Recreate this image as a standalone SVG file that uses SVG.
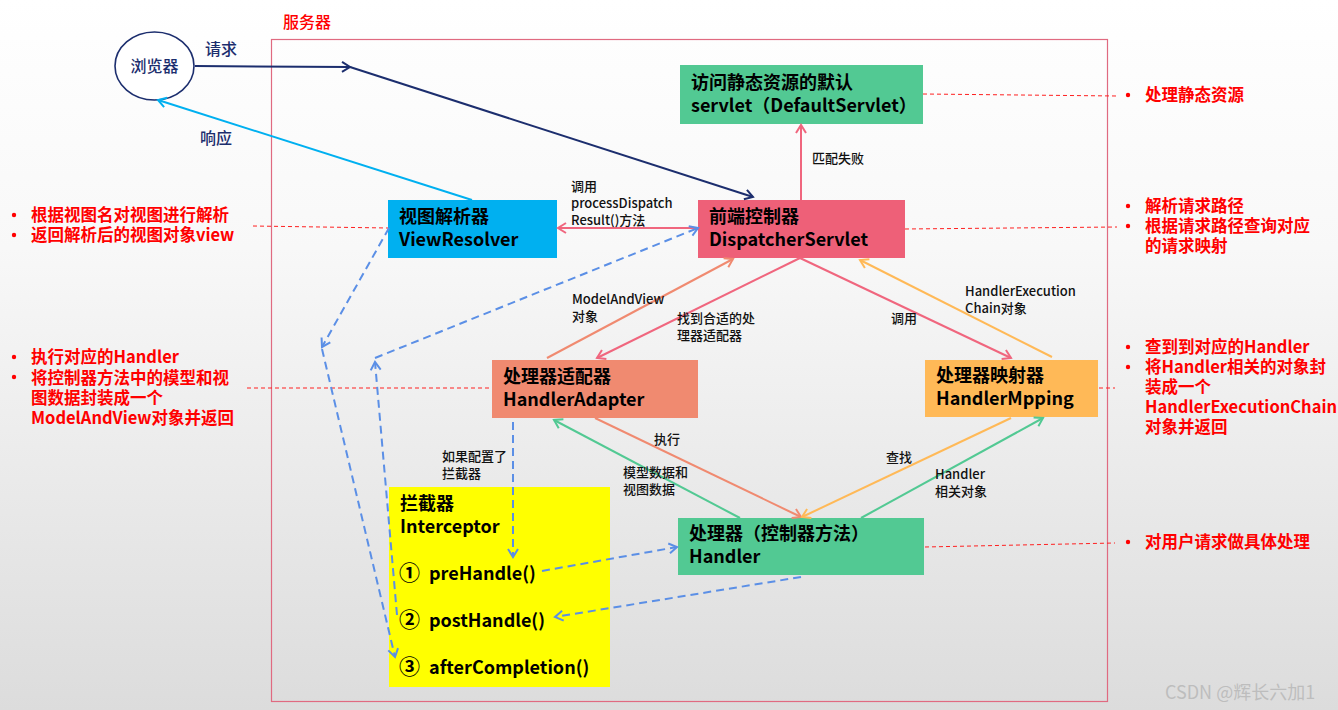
<svg xmlns="http://www.w3.org/2000/svg" width="1338" height="710" viewBox="0 0 1338 710">
<defs>
<linearGradient id="bg" x1="0" y1="0" x2="0" y2="1">
<stop offset="0" stop-color="#ffffff"/>
<stop offset="0.35" stop-color="#f8f8f8"/>
<stop offset="1" stop-color="#dcdcdc"/>
</linearGradient>
<marker id="mNavy" markerUnits="userSpaceOnUse" markerWidth="14" markerHeight="14" refX="11" refY="7" orient="auto"><path d="M3,2 L11,7 L3,12" fill="none" stroke="#1c2e6e" stroke-width="2"/></marker>
<marker id="mCyan" markerUnits="userSpaceOnUse" markerWidth="14" markerHeight="14" refX="11" refY="7" orient="auto"><path d="M3,2 L11,7 L3,12" fill="none" stroke="#00b0f0" stroke-width="2"/></marker>
<marker id="mPink" markerUnits="userSpaceOnUse" markerWidth="14" markerHeight="14" refX="11" refY="7" orient="auto"><path d="M3,2 L11,7 L3,12" fill="none" stroke="#f0667e" stroke-width="2"/></marker>
<marker id="mSalmon" markerUnits="userSpaceOnUse" markerWidth="14" markerHeight="14" refX="11" refY="7" orient="auto"><path d="M3,2 L11,7 L3,12" fill="none" stroke="#f08a70" stroke-width="2"/></marker>
<marker id="mOrange" markerUnits="userSpaceOnUse" markerWidth="14" markerHeight="14" refX="11" refY="7" orient="auto"><path d="M3,2 L11,7 L3,12" fill="none" stroke="#ffb957" stroke-width="2"/></marker>
<marker id="mGreen" markerUnits="userSpaceOnUse" markerWidth="14" markerHeight="14" refX="11" refY="7" orient="auto"><path d="M3,2 L11,7 L3,12" fill="none" stroke="#52c993" stroke-width="2"/></marker>
<marker id="mBlue" markerUnits="userSpaceOnUse" markerWidth="14" markerHeight="14" refX="11" refY="7" orient="auto"><path d="M3,2 L11,7 L3,12" fill="none" stroke="#5b8fe6" stroke-width="2"/></marker>
</defs>
<style>
text { font-family: "Noto Sans CJK SC", "Noto Sans", sans-serif; }
.bt { font-size: 18px; font-weight: bold; fill: #000; }
.num { font-size: 21px; font-weight: bold; fill: #000; }
.lbl { font-size: 13px; fill: #111; font-weight: 500; }
.nt { font-size: 16.5px; font-weight: bold; fill: #ff0000; }
.navy { font-size: 16px; fill: #1c2e6e; font-weight: 500; }
.ln { fill: none; stroke-width: 2; }
.dash { fill: none; stroke: #5b8fe6; stroke-width: 2; stroke-dasharray: 8 5; }
.rd { fill: none; stroke: #ff2020; stroke-width: 1; stroke-dasharray: 4 3; }
.bul { fill: #ff0000; }
</style>
<rect x="0" y="0" width="1338" height="710" fill="url(#bg)"/>

<g id="server">
<rect x="271.5" y="39.5" width="836" height="662" fill="none" stroke="#e06a80" stroke-width="1.2"/>
<text x="283" y="28" style="font-size:16px;fill:#ff0000;font-weight:500">服务器</text>
</g>

<g id="annotations">
<path class="rd" d="M253,226 L388,228"/>
<path class="rd" d="M247,388 L492,388"/>
<path class="rd" d="M923,94 L1117,96"/>
<path class="rd" d="M905,229 L1117,227"/>
<path class="rd" d="M1099,388 L1115,388"/>
<path class="rd" d="M925,547 L1115,543"/>
<circle class="bul" cx="14" cy="215" r="2.2"/>
<circle class="bul" cx="14" cy="235" r="2.2"/>
<text class="nt" x="31" y="221"><tspan x="31" y="221">根据视图名对视图进行解析</tspan><tspan x="31" y="241">返回解析后的视图对象view</tspan></text>
<circle class="bul" cx="14" cy="357" r="2.2"/>
<circle class="bul" cx="14" cy="377" r="2.2"/>
<text class="nt" x="31" y="363"><tspan x="31" y="363">执行对应的Handler</tspan><tspan x="31" y="384">将控制器方法中的模型和视</tspan><tspan x="31" y="404">图数据封装成一个</tspan><tspan x="31" y="424">ModelAndView对象并返回</tspan></text>
<circle class="bul" cx="1128" cy="95" r="2.2"/>
<text class="nt" x="1145" y="101">处理静态资源</text>
<circle class="bul" cx="1128" cy="206" r="2.2"/>
<circle class="bul" cx="1128" cy="226" r="2.2"/>
<text class="nt" x="1145" y="212"><tspan x="1145" y="212">解析请求路径</tspan><tspan x="1145" y="232">根据请求路径查询对应</tspan><tspan x="1145" y="252">的请求映射</tspan></text>
<circle class="bul" cx="1128" cy="347" r="2.2"/>
<circle class="bul" cx="1128" cy="367" r="2.2"/>
<text class="nt" x="1145" y="353"><tspan x="1145" y="353">查到到对应的Handler</tspan><tspan x="1145" y="373">将Handler相关的对象封</tspan><tspan x="1145" y="393">装成一个</tspan><tspan x="1145" y="413">HandlerExecutionChain</tspan><tspan x="1145" y="433">对象并返回</tspan></text>
<circle class="bul" cx="1128" cy="542" r="2.2"/>
<text class="nt" x="1145" y="548">对用户请求做具体处理</text>
</g>

<g id="browser">
<ellipse cx="154.5" cy="66" rx="39.5" ry="34" fill="#ffffff" stroke="#1c2e6e" stroke-width="1.6"/>
<text class="navy" x="154.5" y="72" text-anchor="middle">浏览器</text>
</g>

<g id="default-servlet">
<rect x="680" y="65" width="243" height="59" fill="#52c993"/>
<text class="bt" x="691" y="89"><tspan x="691" y="89">访问静态资源的默认</tspan><tspan x="691" y="112">servlet（DefaultServlet）</tspan></text>
</g>

<g id="dispatcher">
<rect x="698" y="200" width="207" height="58" fill="#ee6078"/>
<text class="bt" x="709" y="223"><tspan x="709" y="223">前端控制器</tspan><tspan x="709" y="246">DispatcherServlet</tspan></text>
</g>

<g id="view-resolver">
<rect x="388" y="200" width="169" height="58" fill="#00b0f0"/>
<text class="bt" x="399" y="223"><tspan x="399" y="223">视图解析器</tspan><tspan x="399" y="246">ViewResolver</tspan></text>
</g>

<g id="handler-adapter">
<rect x="492" y="360" width="206" height="58" fill="#f08a70"/>
<text class="bt" x="503" y="383"><tspan x="503" y="383">处理器适配器</tspan><tspan x="503" y="406">HandlerAdapter</tspan></text>
</g>

<g id="handler-mapping">
<rect x="925" y="360" width="173" height="57" fill="#ffb957"/>
<text class="bt" x="936" y="382"><tspan x="936" y="382">处理器映射器</tspan><tspan x="936" y="405">HandlerMpping</tspan></text>
</g>

<g id="handler">
<rect x="678" y="518" width="246" height="57" fill="#52c993"/>
<text class="bt" x="689" y="540"><tspan x="689" y="540">处理器（控制器方法）</tspan><tspan x="689" y="563">Handler</tspan></text>
</g>

<g id="interceptor">
<rect x="389" y="487" width="221" height="200" fill="#ffff00"/>
<text class="bt" x="400" y="510"><tspan x="400" y="510">拦截器</tspan><tspan x="400" y="533">Interceptor</tspan></text>
<text class="bt" x="399" y="580"><tspan class="num">①</tspan><tspan x="429">preHandle()</tspan></text>
<text class="bt" x="399" y="627"><tspan class="num">②</tspan><tspan x="429">postHandle()</tspan></text>
<text class="bt" x="399" y="674"><tspan class="num">③</tspan><tspan x="429">afterCompletion()</tspan></text>
</g>

<g id="connectors">
<path class="ln" stroke="#1c2e6e" d="M195,66 L350,67" marker-end="url(#mNavy)"/>
<path class="ln" stroke="#1c2e6e" d="M350,67 L753,197" marker-end="url(#mNavy)"/>
<path class="ln" stroke="#00b0f0" d="M472,200 L158,100" marker-end="url(#mCyan)"/>
<path class="ln" stroke="#f0667e" d="M801,200 L801,125" marker-end="url(#mPink)"/>
<path class="ln" stroke="#f0667e" d="M698,228 L558,228" marker-end="url(#mPink)"/>
<path class="ln" stroke="#f0667e" d="M800,258 L597,358" marker-end="url(#mPink)"/>
<path class="ln" stroke="#f0667e" d="M800,258 L1011,358" marker-end="url(#mPink)"/>
<path class="ln" stroke="#f08a70" d="M547,358 L733,259" marker-end="url(#mSalmon)"/>
<path class="ln" stroke="#f08a70" d="M595,418 L801,517" marker-end="url(#mSalmon)"/>
<path class="ln" stroke="#ffb957" d="M1052,357 L860,260" marker-end="url(#mOrange)"/>
<path class="ln" stroke="#ffb957" d="M1011,418 L802,517" marker-end="url(#mOrange)"/>
<path class="ln" stroke="#52c993" d="M740,518 L554,420" marker-end="url(#mGreen)"/>
<path class="ln" stroke="#52c993" d="M861,518 L1043,418" marker-end="url(#mGreen)"/>
<path class="dash" d="M389,228 L322,347" marker-end="url(#mBlue)"/>
<path class="dash" d="M322,349 L395,657" marker-end="url(#mBlue)"/>
<path class="dash" d="M397,615 L375,362" marker-end="url(#mBlue)"/>
<path class="dash" d="M375,358 L698,228" marker-end="url(#mBlue)"/>
<path class="dash" d="M513,422 L513,557" marker-end="url(#mBlue)"/>
<path class="dash" d="M542,571 L677,547" marker-end="url(#mBlue)"/>
<path class="dash" d="M801,577 L555,617" marker-end="url(#mBlue)"/>
<text class="navy" x="205" y="55">请求</text>
<text class="navy" x="200" y="144">响应</text>
<text class="lbl" x="812" y="163">匹配失败</text>
<text class="lbl" x="571" y="191"><tspan x="571" y="191">调用</tspan><tspan x="571" y="208">processDispatch</tspan><tspan x="571" y="225">Result()方法</tspan></text>
<text class="lbl" x="572" y="304"><tspan x="572" y="304">ModelAndView</tspan><tspan x="572" y="321">对象</tspan></text>
<text class="lbl" x="677" y="323"><tspan x="677" y="323">找到合适的处</tspan><tspan x="677" y="340">理器适配器</tspan></text>
<text class="lbl" x="891" y="323">调用</text>
<text class="lbl" x="965" y="296"><tspan x="965" y="296">HandlerExecution</tspan><tspan x="965" y="313">Chain对象</tspan></text>
<text class="lbl" x="442" y="461"><tspan x="442" y="461">如果配置了</tspan><tspan x="442" y="478">拦截器</tspan></text>
<text class="lbl" x="654" y="444">执行</text>
<text class="lbl" x="623" y="477"><tspan x="623" y="477">模型数据和</tspan><tspan x="623" y="494">视图数据</tspan></text>
<text class="lbl" x="886" y="462">查找</text>
<text class="lbl" x="935" y="479"><tspan x="935" y="479">Handler</tspan><tspan x="935" y="496">相关对象</tspan></text>
</g>

<text x="1165" y="699" style="font-size:18px;fill:#bdbdbd">CSDN @辉长六加1</text>
</svg>
